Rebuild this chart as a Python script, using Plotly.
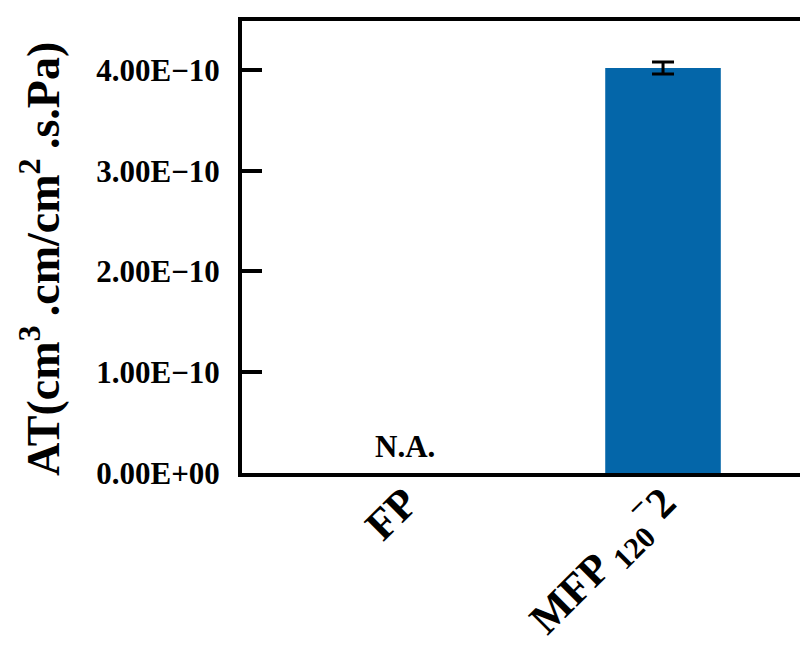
import plotly.graph_objects as go

categories = ["FP", "MFP120-2"]
tick_labels = ["FP", "MFP <sub>120</sub><sup>−</sup>2"]
values = [None, 4.02e-10]
errors = [None, 0.06e-10]
na_labels = ["N.A.", ""]

y_tickvals = [0, 1e-10, 2e-10, 3e-10, 4e-10]
y_ticktext = ["0.00E+00", "1.00E−10", "2.00E−10", "3.00E−10", "4.00E−10"]

FONT = "Liberation Serif, Times New Roman, serif"

fig = go.Figure()
fig.add_trace(go.Bar(
    x=categories, y=values, width=0.448,
    marker=dict(color="#0466A9", line=dict(width=0)),
    error_y=dict(type="data", array=errors, visible=True, color="black",
                 thickness=3, width=11),
))

for c, t, v in zip(categories, na_labels, values):
    if t:
        fig.add_annotation(x=c, y=0.26e-10, text=t, showarrow=False,
                           font=dict(family=FONT, size=31, color="black", weight="bold"))

fig.add_annotation(xref="paper", yref="paper", x=(40 - 242) / 558, y=(473 - 259) / 452,
                   text="AT(cm<sup>3</sup>\u2009.cm/cm<sup>2</sup>\u2009.s.Pa)", showarrow=False,
                   textangle=-90, xanchor="center", yanchor="middle",
                   font=dict(family=FONT, size=46, color="black", weight="bold"))

fig.update_layout(
    width=800, height=646,
    margin=dict(l=242, r=0, t=21, b=173, autoexpand=False),
    paper_bgcolor="white", plot_bgcolor="white",
    showlegend=False,
    font=dict(family=FONT, color="black"),
    xaxis=dict(
        categoryorder="array", categoryarray=categories,
        tickvals=categories, ticktext=tick_labels,
        range=[-0.632, 1.531], automargin=False,
        showline=True, linewidth=4, linecolor="black", mirror=True,
        ticks="", showgrid=False, zeroline=False,
        tickangle=-45, ticklabelstandoff=-17,
        tickfont=dict(family=FONT, size=43, color="black", weight="bold"),
    ),
    yaxis=dict(
        range=[0, 4.486e-10], automargin=False,
        tickvals=y_tickvals, ticktext=y_ticktext,
        showline=True, linewidth=4, linecolor="black", mirror=False,
        ticks="inside", ticklen=20, tickwidth=4, tickcolor="black",
        showgrid=False, zeroline=False,
        ticklabelstandoff=12,
        tickfont=dict(family=FONT, size=31, color="black", weight="bold"),
    ),
)

fig.write_html("out.html")
